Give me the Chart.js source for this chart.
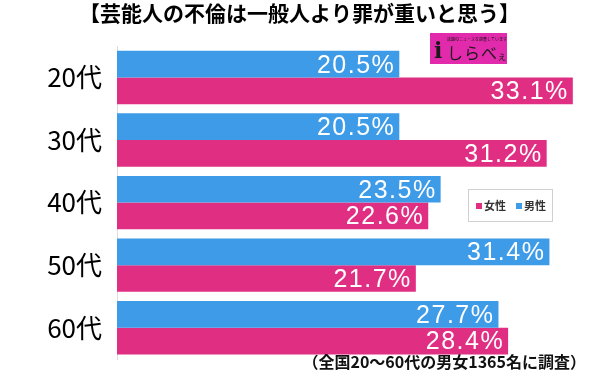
<!DOCTYPE html>
<html>
<head>
<meta charset="utf-8">
<script src="https://cdn.jsdelivr.net/npm/chart.js@4"></script>
<style>
  body { margin: 0; background: #fff; }
  canvas { display: block; }
</style>
</head>
<body>
<canvas id="graph" width="600" height="376"></canvas>
<script>
const ageGroups = ['20代', '30代', '40代', '50代', '60代']
const maleValues = [20.5, 20.5, 23.5, 31.4, 27.7]
const femaleValues = [33.1, 31.2, 22.6, 21.7, 28.4]
const seriesNames = ['男性', '女性']
const titleText = '【芸能人の不倫は一般人より罪が重いと思う】'
const noteText = '（全国20〜60代の男女1365名に調査）'

const jpFont = '"Noto Sans CJK JP", "Noto Sans", sans-serif'
const blue = '#3e9be8'
const pink = '#e02f83'

// percent text at the end of each bar
const valueLabels = {
  id: 'valueLabels',
  afterDatasetsDraw (chart) {
    const { ctx } = chart
    ctx.save()
    ctx.font = '25px "Liberation Sans", Arial, sans-serif'
    ctx.letterSpacing = '1.5px'
    ctx.fillStyle = '#fff'
    ctx.textAlign = 'right'
    ctx.textBaseline = 'middle'
    chart.data.datasets.forEach((ds, i) => {
      chart.getDatasetMeta(i).data.forEach((bar, j) => {
        ctx.fillText(ds.data[j].toFixed(1) + '%', bar.x - 4, bar.y + 1.5)
      })
    })
    ctx.restore()
  }
}

// logo, legend box and footnote
const extras = {
  id: 'extras',
  afterDraw (chart) {
    const { ctx } = chart
    ctx.save()

    // logo
    ctx.fillStyle = '#e22aac'
    ctx.fillRect(430, 33, 77, 31)
    ctx.fillStyle = '#1a1a1a'
    ctx.textBaseline = 'middle'
    ctx.textAlign = 'left'
    ctx.font = 'bold 22px "DejaVu Serif", serif'
    ctx.fillText('i', 434, 52)
    ctx.font = '16px ' + jpFont
    ctx.letterSpacing = '1px'
    ctx.fillText('しらべ', 447, 53)
    ctx.font = '10px ' + jpFont
    ctx.fillText('ぇ', 497, 56)
    ctx.letterSpacing = '0px'
    ctx.font = '4px ' + jpFont
    ctx.fillText('話題のニュースを調査しています', 447, 39)

    // legend
    ctx.fillStyle = '#fff'
    ctx.fillRect(468, 189, 84, 32)
    ctx.strokeStyle = '#d0d0d0'
    ctx.lineWidth = 1
    ctx.strokeRect(468.5, 189.5, 84, 32)
    ctx.font = 'bold 11px ' + jpFont
    let x = 476
    const items = chart.data.datasets.slice().reverse()
    items.forEach(ds => {
      ctx.fillStyle = ds.backgroundColor
      ctx.fillRect(x, 203, 6, 6)
      ctx.fillStyle = '#333'
      ctx.fillText(ds.label, x + 8, 206)
      x += 40
    })

    // note
    ctx.fillStyle = '#111'
    ctx.font = 'bold 16px ' + jpFont
    ctx.textAlign = 'right'
    ctx.fillText(noteText, 586, 362)
    ctx.restore()
  }
}

new Chart('graph', {
  type: 'bar',
  data: {
    labels: ageGroups,
    datasets: [
      { label: seriesNames[0], data: maleValues, backgroundColor: blue },
      { label: seriesNames[1], data: femaleValues, backgroundColor: pink }
    ]
  },
  options: {
    indexAxis: 'y',
    responsive: false,
    animation: false,
    categoryPercentage: 0.853,
    barPercentage: 1,
    layout: { padding: { top: 0, right: 1, bottom: 17, left: 0 } },
    scales: {
      x: { display: false, min: 0, max: 35 },
      y: {
        grid: { display: false, drawTicks: false },
        border: { display: true, color: '#dddddd', width: 1 },
        ticks: { color: '#000', padding: 15, font: { family: jpFont, size: 26 } },
        afterFit: scale => {
          scale.width = 117
          scale.paddingTop = 0
          scale.paddingBottom = 0
        }
      }
    },
    plugins: {
      legend: { display: false },
      tooltip: { enabled: false },
      title: {
        display: true,
        text: titleText,
        color: '#000',
        font: { family: jpFont, size: 21, weight: 'bold' },
        padding: { top: 0, bottom: 21 }
      }
    }
  },
  plugins: [valueLabels, extras]
})
</script>
</body>
</html>
